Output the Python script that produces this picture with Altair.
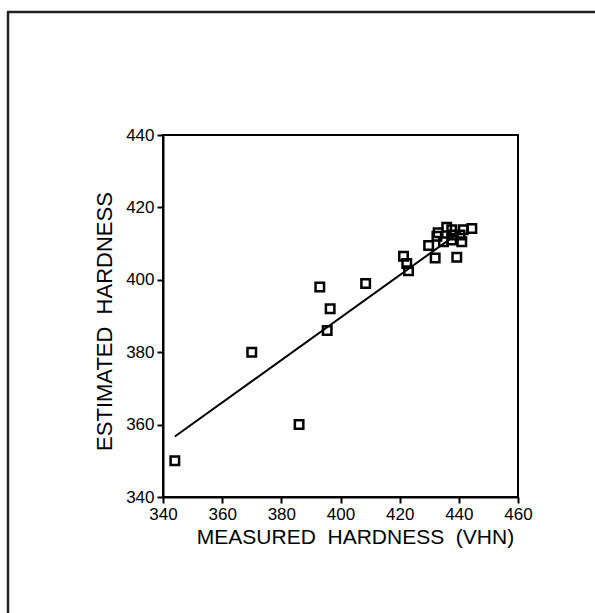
import altair as alt
import pandas as pd

# Measured vs estimated hardness
measured = [344, 386, 370, 393, 396.5, 395.5, 408.5, 421.3, 422.4, 423.0,
            429.8, 432.0, 432.6, 433.0, 435.9, 437.6, 434.8, 437.6, 438.2,
            440.4, 441.0, 441.5, 444.4, 439.3]
estimated = [350, 360, 380, 398, 392, 386, 399, 406.5, 404.5, 402.5,
             409.5, 406.0, 412.0, 413.0, 414.5, 413.8, 410.5, 411.0, 412.4,
             412.4, 410.5, 413.8, 414.2, 406.2]

# Fitted regression line endpoints
fit_x = [344, 441]
fit_y = [356.7, 413.6]

x_ticks = list(range(340, 461, 10))
y_ticks = list(range(340, 441, 10))

pts = pd.DataFrame({"m": measured, "e": estimated})
fit = pd.DataFrame({"m": fit_x, "e": fit_y})

FONT = "Liberation Sans"

x_enc = alt.X(
    "m:Q",
    scale=alt.Scale(domain=[340, 460], nice=False, zero=False),
    axis=alt.Axis(
        values=x_ticks,
        labelExpr="datum.value % 20 == 0 ? datum.label : ''",
        title="MEASURED\u00a0 HARDNESS\u00a0 (VHN)",
        titleFontSize=21, titleFont=FONT, titleFontWeight="normal",
        titleColor="black", titleX=192, titleY=46, titleAlign="center",
        titleBaseline="alphabetic",
        labelFontSize=17, labelFont=FONT, labelColor="black",
        labelPadding=3, tickSize=6, tickWidth=2, tickColor="black",
        domainColor="black", domainWidth=2, grid=False, labelFlush=False,
        labelOverlap=False,
    ),
)
y_enc = alt.Y(
    "e:Q",
    scale=alt.Scale(domain=[340, 440], nice=False, zero=False),
    axis=alt.Axis(
        values=y_ticks,
        labelExpr="datum.value % 20 == 0 ? datum.label : ''",
        title="ESTIMATED\u00a0 HARDNESS",
        titleFontSize=22, titleFont=FONT, titleFontWeight="normal",
        titleColor="black", titleX=-59, titleY=186, titleAngle=-90,
        titleAlign="center", titleBaseline="middle",
        labelFontSize=17, labelFont=FONT, labelColor="black",
        labelPadding=3, tickSize=6, tickWidth=2, tickColor="black",
        domainColor="black", domainWidth=2, grid=False, labelFlush=False,
        labelOverlap=False,
    ),
)

points = alt.Chart(pts).mark_point(
    shape="square", filled=False, size=72, strokeWidth=2.5, color="black", opacity=1
).encode(x=x_enc, y=y_enc)

line = alt.Chart(fit).mark_line(color="black", strokeWidth=2).encode(
    x="m:Q", y="e:Q"
)

frame_data = alt.Data(values=[{"a": 1}])
frame_top = alt.Chart(frame_data).mark_rule(color="#222", strokeWidth=2.5).encode(
    x=alt.value(-156), x2=alt.value(432), y=alt.value(-123)
)
frame_left = alt.Chart(frame_data).mark_rule(color="#222", strokeWidth=2.5).encode(
    x=alt.value(-155), y=alt.value(-123), y2=alt.value(478)
)

chart = alt.layer(line, points, frame_top, frame_left).properties(
    width=355,
    height=362,
    autosize=alt.AutoSizeParams(type="none"),
    padding={"left": 163, "top": 135, "right": 77, "bottom": 116},
    background="white",
).configure_view(stroke="black", strokeWidth=2)

chart.save("out.html", embed_options={"renderer": "svg", "actions": False})
